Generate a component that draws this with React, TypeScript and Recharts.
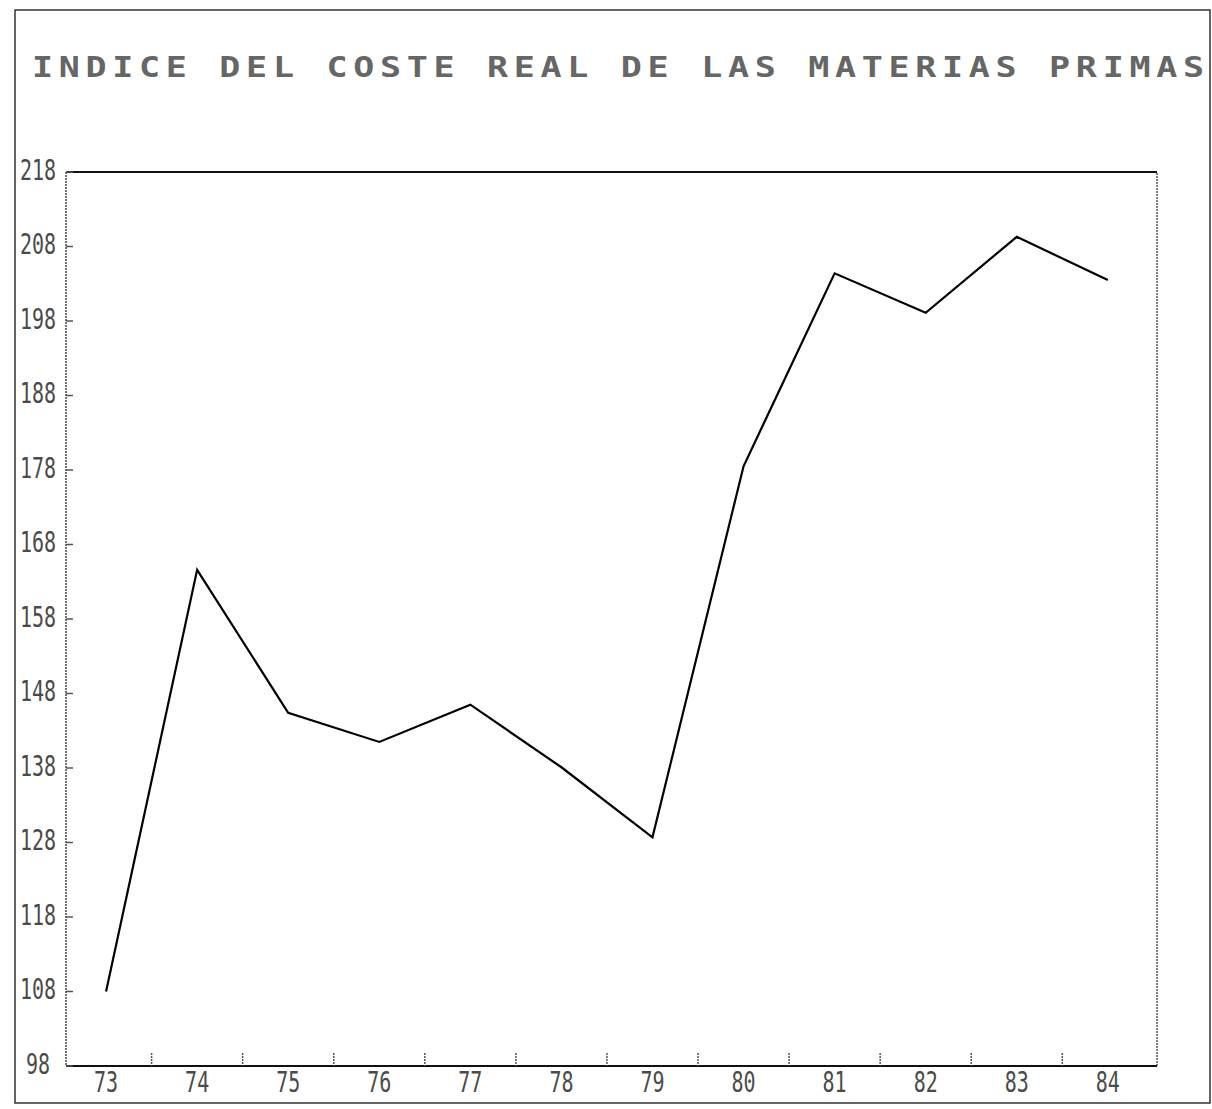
import React from "react";
import { LineChart, Line, XAxis, YAxis, ReferenceLine } from "recharts";

const TITLE = "INDICE DEL COSTE REAL DE LAS MATERIAS PRIMAS";
const YEARS = [73, 74, 75, 76, 77, 78, 79, 80, 81, 82, 83, 84];
const INDEX_VALUES = [108, 164.6, 145.4, 141.5, 146.5, 138.1, 128.7, 178.5, 204.4, 199.1, 209.3, 203.5];
const Y_TICKS = [98, 108, 118, 128, 138, 148, 158, 168, 178, 188, 198, 208, 218];

const X_MIN = 72.56;
const X_MAX = 84.54;
const W = 1212;
const H = 1109;
const LEFT = 66;
const RIGHT = 1157;
const STEP = (RIGHT - LEFT) / (X_MAX - X_MIN);

const FONT = "'DejaVu Sans Mono', monospace";
const INK = "#4a4a4a";
const TITLE_SCALE = 1.25;

const data = YEARS.map((year, i) => ({ year, value: INDEX_VALUES[i] }));

function XTick(props: any) {
  const { x, y, payload } = props;
  const last = payload.value === YEARS[YEARS.length - 1];
  return (
    <g>
      <text
        transform={`translate(${x},${y + 16}) scale(1,1.4)`}
        textAnchor="middle"
        dominantBaseline="central"
        fontFamily={FONT}
        fontSize={20}
        fill={INK}
      >
        {payload.value}
      </text>
      {!last && (
        <line
          x1={x + STEP / 2}
          x2={x + STEP / 2}
          y1={y - 13}
          y2={y}
          stroke="#555"
          strokeWidth={1.5}
          strokeDasharray="2 1"
        />
      )}
    </g>
  );
}

function YTick(props: any) {
  const { x, y, payload } = props;
  return (
    <g>
      <text
        transform={`translate(${x - 28},${y - 2}) scale(1,1.4)`}
        textAnchor="middle"
        dominantBaseline="central"
        fontFamily={FONT}
        fontSize={20}
        fill={INK}
      >
        {payload.value}
      </text>
      <line x1={x} x2={x + 7} y1={y} y2={y} stroke="#555" strokeWidth={1.5} />
    </g>
  );
}

export default function App() {
  return (
    <div style={{ position: "absolute", left: 0, top: 0, width: W, height: H, background: "#fff" }}>
      <svg width={W} height={H} style={{ position: "absolute", left: 0, top: 0 }}>
        <rect x={15} y={10} width={1195} height={1093} fill="none" stroke="#333" strokeWidth={1.5} />
        <text
          transform={`translate(32,77) scale(${TITLE_SCALE},1)`}
          textLength={1172 / TITLE_SCALE}
          lengthAdjust="spacing"
          fontFamily={FONT}
          fontWeight="bold"
          fontSize={28}
          fill="#666"
        >
          {TITLE}
        </text>
      </svg>
      <LineChart
        width={W}
        height={H}
        data={data}
        margin={{ top: 172, right: W - RIGHT, bottom: 0, left: 0 }}
        style={{ position: "absolute", left: 0, top: 0 }}
      >
        <XAxis
          dataKey="year"
          type="number"
          domain={[X_MIN, X_MAX]}
          ticks={YEARS}
          interval={0}
          allowDataOverflow
          height={43}
          tickSize={0}
          tickMargin={0}
          tickLine={false}
          axisLine={{ stroke: "#111", strokeWidth: 2 }}
          tick={(p: any) => <XTick {...p} />}
        />
        <YAxis
          type="number"
          domain={[98, 218]}
          ticks={Y_TICKS}
          interval={0}
          width={LEFT}
          tickSize={0}
          tickMargin={0}
          tickLine={false}
          axisLine={{ stroke: "#444", strokeWidth: 1.5, strokeDasharray: "2 1" }}
          tick={(p: any) => <YTick {...p} />}
        />
        <ReferenceLine y={218} stroke="#111" strokeWidth={2} />
        <ReferenceLine x={X_MAX} stroke="#555" strokeWidth={1.5} strokeDasharray="2 1" />
        <Line
          dataKey="value"
          type="linear"
          stroke="#000"
          strokeWidth={2.2}
          dot={false}
          isAnimationActive={false}
        />
      </LineChart>
    </div>
  );
}
